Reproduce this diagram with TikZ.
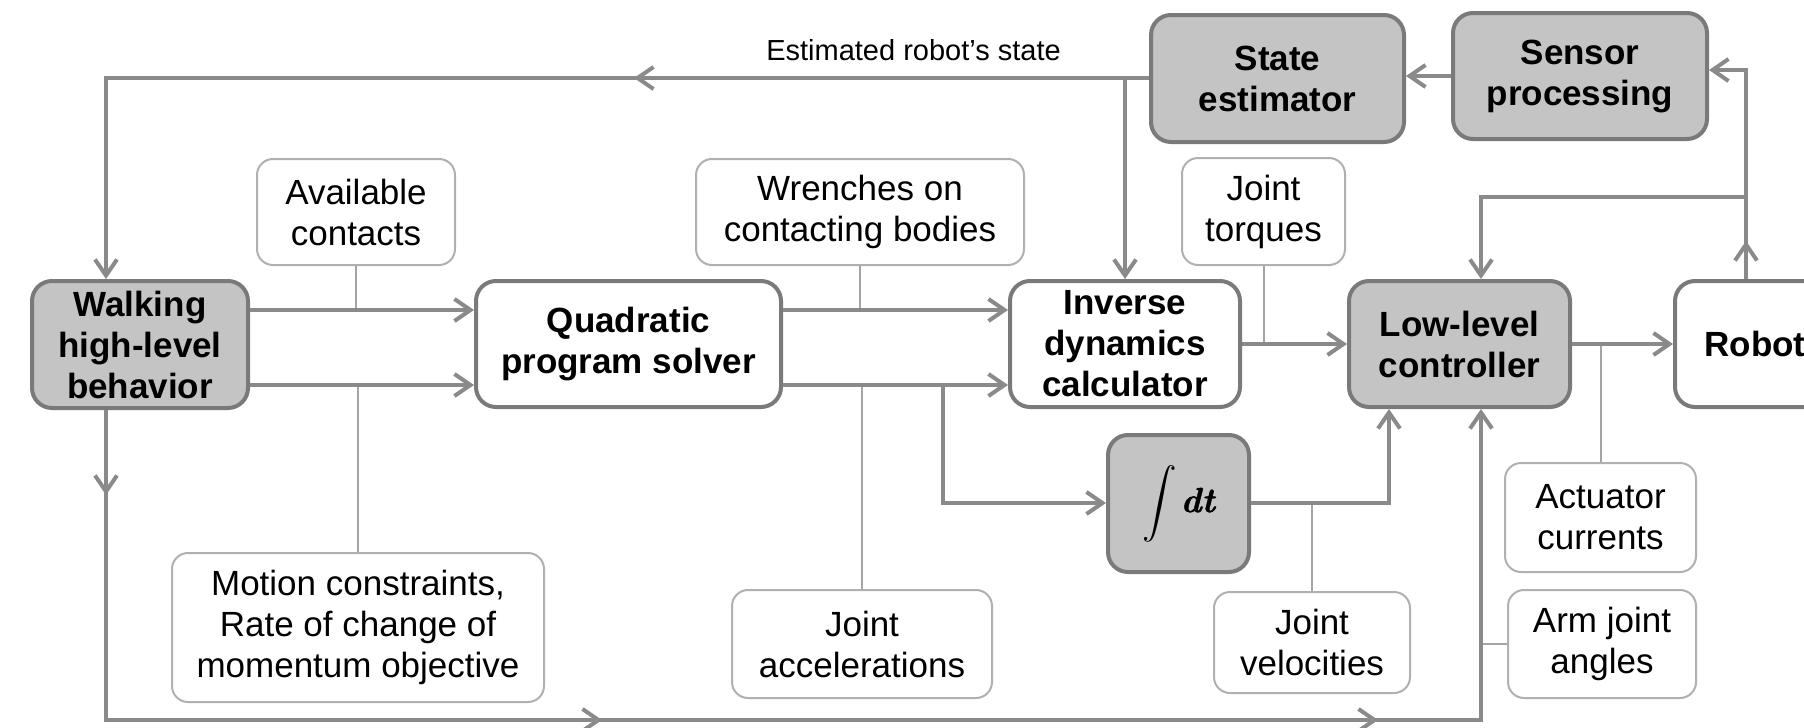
\documentclass[tikz,border=0pt]{standalone}
\usepackage{amsmath}
\usepackage{fontspec}
\setmainfont{Liberation Sans}
\newfontface\dtface[FakeBold=1.2]{lmroman10-bolditalic.otf}
\usetikzlibrary{arrows.meta,decorations.markings}

\definecolor{linegray}{HTML}{8A8A8A}
\definecolor{boxline}{HTML}{7A7A7A}
\definecolor{boxfill}{HTML}{C4C4C4}
\definecolor{lblline}{HTML}{B0B0B0}
\definecolor{tapgray}{HTML}{A4A4A4}

\tikzset{
  mainbox/.style={draw=boxline, line width=2pt, rounded corners=10pt, fill=white,
    align=center, inner sep=0pt, font=\bfseries\fontsize{17.5}{20.5}\selectfont},
  graybox/.style={mainbox, fill=boxfill},
  labelbox/.style={draw=lblline, line width=1pt, rounded corners=8pt, fill=white,
    align=center, inner sep=0pt, font=\fontsize{17.5}{20.5}\selectfont},
  flow/.style={color=linegray, line width=2pt, -{Straight Barb[length=8pt,width=11pt]}},
  tap/.style={draw=tapgray, line width=1pt},
  midtip/.style={postaction={decorate,decoration={markings,
    mark=at position #1 with {\arrow{Straight Barb[length=8pt,width=11pt]}}}}},
}

\begin{document}
\begin{tikzpicture}[x=0.5pt, y=-0.5pt]
\useasboundingbox (0,0) rectangle (1804,728);
\clip (0,0) rectangle (1804,728);

% rails and columns used by the connectors
\coordinate (yTop)  at (0,78);
\coordinate (yBack) at (0,70);
\coordinate (yFb)   at (0,197);
\coordinate (yA)    at (0,310);
\coordinate (yB)    at (0,385);
\coordinate (yC)    at (0,344);
\coordinate (yI)    at (0,503);
\coordinate (yBot)  at (0,720);
\coordinate (xL) at (106,0);
\coordinate (xQ) at (943,0);
\coordinate (xS) at (1125,0);
\coordinate (xI) at (1389,0);
\coordinate (xC) at (1481,0);
\coordinate (xR) at (1746,0);

% label boxes
\node[labelbox, minimum width=99pt,  minimum height=53pt]   (avail)  at (356,212)    {Available\\contacts};
\node[labelbox, minimum width=164pt, minimum height=53pt]   (wrench) at (860,212)    {Wrenches on\\contacting bodies};
\node[labelbox, minimum width=81.5pt,minimum height=53.5pt] (torq)   at (1263.5,211.5) {Joint\\torques};
\node[labelbox, minimum width=186pt, minimum height=74.5pt] (motion) at (358,627.5)  {Motion constraints,\\Rate of change of\\momentum objective};
\node[labelbox, minimum width=130pt, minimum height=54pt]   (accel)  at (862,644)    {Joint\\accelerations};
\node[labelbox, minimum width=98pt,  minimum height=50.5pt] (veloc)  at (1312,642.5) {Joint\\velocities};
\node[labelbox, minimum width=95.5pt,minimum height=54.5pt] (act)    at (1600.5,517.5) {Actuator\\currents};
\node[labelbox, minimum width=94pt,  minimum height=54pt]   (arm)    at (1602,644)   {Arm joint\\angles};

% thin taps from the label boxes onto the signal lines
\draw[tap] (avail.south)  -- (avail.south |- yA);
\draw[tap] (motion.north) -- (motion.north |- yB);
\draw[tap] (wrench.south) -- (wrench.south |- yA);
\draw[tap] (accel.north)  -- (accel.north |- yB);
\draw[tap] (torq.south)   -- (torq.south |- yC);
\draw[tap] (veloc.north)  -- (veloc.north |- yI);
\draw[tap] (act.north)    -- (act.north |- yC);
\draw[tap] (arm.west)     -- (arm.west -| xC);

% main blocks
\node[graybox, minimum width=108pt,  minimum height=63.5pt] (walk)   at (140,344.5)  {Walking\\high-level\\behavior};
\node[mainbox, minimum width=152.5pt,minimum height=63pt]   (qp)     at (628.5,344)  {Quadratic\\program solver};
\node[mainbox, minimum width=115pt,  minimum height=63pt]   (inv)    at (1125,344)   {Inverse\\dynamics\\calculator};
\node[graybox, minimum width=110.5pt,minimum height=63pt]   (low)    at (1459.5,344) {Low-level\\controller};
\node[mainbox, minimum width=80pt,   minimum height=63pt]   (robot)  at (1755,344)   {Robot};
\node[graybox, minimum width=126.5pt,minimum height=63.5pt] (state)  at (1277.5,78.5) {State\\estimator};
\node[graybox, minimum width=127pt,  minimum height=63pt]   (sensor) at (1580,76)    {Sensor\\processing};
\node[graybox, minimum width=70.5pt, minimum height=68.5pt] (integ)  at (1178.5,503.5)
  {$\displaystyle\int$\kern2pt{\dtface dt}};

\node[inner sep=0pt, font=\fontsize{14.5}{17}\selectfont] (estlbl) at (913.5,50) {Estimated robot’s state};

% signal flow
\draw[flow, midtip=257.5pt] (state.west |- yTop) -- (xL |- yTop) -- (xL |- walk.north);
\draw[flow] (xS |- yTop) -- (xS |- inv.north);
\draw[flow] (sensor.west) -- (state.east |- sensor.west);
\draw[flow, midtip=19pt] (xR |- robot.north) -- (xR |- yBack) -- (sensor.east |- yBack);
\draw[flow] (xR |- yFb) -- (xC |- yFb) -- (xC |- low.north);
\draw[flow] (walk.east |- yA) -- (qp.west |- yA);
\draw[flow] (walk.east |- yB) -- (qp.west |- yB);
\draw[flow] (qp.east |- yA) -- (inv.west |- yA);
\draw[flow] (qp.east |- yB) -- (inv.west |- yB);
\draw[flow] (xQ |- yB) -- (xQ |- yI) -- (integ.west |- yI);
\draw[flow] (inv.east |- yC) -- (low.west |- yC);
\draw[flow] (integ.east |- yI) -- (xI |- yI) -- (xI |- low.south);
\draw[flow] (low.east |- yC) -- (robot.west |- yC);
\draw[flow, midtip=42.5pt, midtip=403pt, midtip=791pt]
  (xL |- walk.south) -- (xL |- yBot) -- (xC |- yBot) -- (xC |- low.south);
\end{tikzpicture}
\end{document}
